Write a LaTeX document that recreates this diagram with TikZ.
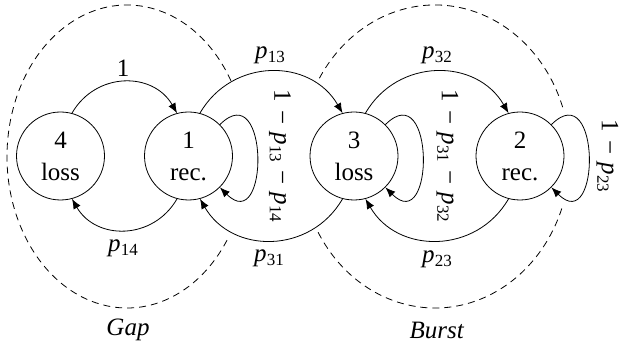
\documentclass[tikz,border=0pt]{standalone}
\usepackage{fontspec}
\setmainfont{Liberation Serif}
\usetikzlibrary{arrows.meta}
% transition probability p with a two-digit subscript
\newcommand{\pij}[1]{\textit{p}\kern0.3pt\raisebox{-4.5pt}{\fontsize{17}{17}\selectfont #1}}
% spaced minus sign
\newcommand{\mns}{\hspace{8pt}−\hspace{8pt}}

\begin{document}
\begin{tikzpicture}[x=1pt,y=1pt,
  state/.style={circle,draw,line width=0.8pt,minimum size=88pt,inner sep=0pt,
                align=center,font=\fontsize{25}{32}\selectfont},
  lbl/.style={inner sep=0pt,font=\fontsize{25}{30}\selectfont},
  trans/.style={line width=0.8pt,-{Latex[length=10pt,width=8pt]}},
  region/.style={line width=0.8pt,dash pattern=on 7pt off 5pt}]
\useasboundingbox (0,0) rectangle (621,350);

% states
\node[state] (n4) at (60.5,194) {4\\loss};
\node[state] (n1) at (188.5,194) {1\\rec.};
\node[state] (n3) at (354,194) {3\\loss};
\node[state] (n2) at (520,194) {2\\rec.};

% upper transitions
\draw[trans] (n4.75) .. controls +(60:48) and +(120:48) .. (n1.105);
\draw[trans] (n1.75) .. controls +(60:64) and +(120:64) .. (n3.105);
\draw[trans] (n3.75) .. controls +(60:64) and +(120:64) .. (n2.105);

% lower transitions
\draw[trans] (n1.-105) .. controls +(-120:48) and +(-60:48) .. (n4.-75);
\draw[trans] (n3.-105) .. controls +(-120:64) and +(-60:64) .. (n1.-75);
\draw[trans] (n2.-105) .. controls +(-120:64) and +(-60:64) .. (n3.-75);

% self loops
\draw[trans] (n1.45) .. controls +(45:70) and +(-45:70) .. (n1.-45);
\draw[trans] (n3.45) .. controls +(45:70) and +(-45:70) .. (n3.-45);
\draw[trans] (n2.45) .. controls +(45:70) and +(-45:70) .. (n2.-45);

% transition labels
\node[lbl] (l41) at (123,281.5) {1};
\node[lbl] (l13) at (270,295) {\pij{13}};
\node[lbl] (l32) at (437,295) {\pij{32}};
\node[lbl] (l14) at (123,102) {\pij{14}};
\node[lbl] (l31) at (269,92) {\pij{31}};
\node[lbl] (l23) at (437,91) {\pij{23}};
\node[lbl,rotate=-90] (l11) at (280,194) {1\mns\pij{13}\mns\pij{14}};
\node[lbl,rotate=-90] (l33) at (447.5,194) {1\mns\pij{31}\mns\pij{32}};
\node[lbl,rotate=-90] (l22) at (607.5,194) {1\mns\pij{23}};

% dashed regions
\coordinate (gapc) at (127,193.5);
\coordinate (burstc) at (435,193.5);
\draw[region] ([shift={(30:120 and 151.5)}]gapc)
  arc[start angle=30, end angle=327.5, x radius=120, y radius=151.5];
\draw[region] ([shift={(19:135 and 151.5)}]burstc)
  arc[start angle=19, end angle=150, x radius=135, y radius=151.5];
\draw[region] ([shift={(210:135 and 151.5)}]burstc)
  arc[start angle=210, end angle=341, x radius=135, y radius=151.5];

% region names
\node[lbl] (gap) at (128,20) {\textit{Gap}};
\node[lbl] (burst) at (437,20) {\textit{Burst}};
\end{tikzpicture}
\end{document}
